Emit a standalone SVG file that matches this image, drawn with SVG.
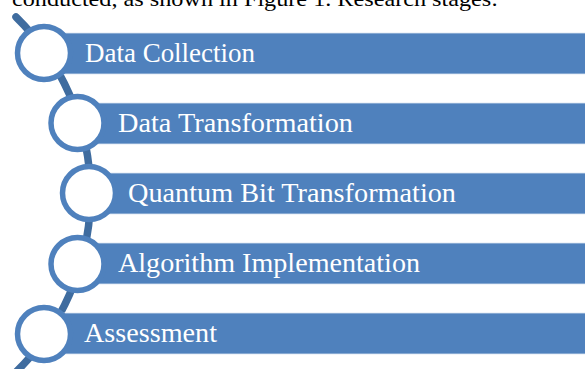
<svg xmlns="http://www.w3.org/2000/svg" width="585" height="369" viewBox="0 0 585 369">
<style>
.bar{fill:#4F81BD;stroke:#DCE6F2;stroke-width:0.8}
.ring{fill:#FFFFFF;stroke:#4F81BD;stroke-width:5.5}
.lbl{font-family:"Liberation Serif","Times New Roman",serif;font-size:27px;fill:#FFFFFF}
.conn{fill:none;stroke:#3F6C9F;stroke-width:7.5;stroke-linecap:round}
</style>
<rect width="585" height="369" fill="#FFFFFF"/>
<text x="12" y="6" font-family="Liberation Serif, serif" font-size="22" fill="#000000" textLength="486" lengthAdjust="spacingAndGlyphs">conducted, as shown in Figure 1. Research stages:</text>
<g id="connectors">
<path class="conn" d="M 16 17 A 248.7 248.7 0 0 1 16 372"/>
</g>
<g id="node1">
<rect class="bar" x="44" y="33" width="545" height="41"/>
<circle class="ring" cx="44" cy="53" r="26.5"/>
<text class="lbl" x="85" y="62" textLength="170" lengthAdjust="spacingAndGlyphs">Data Collection</text>
</g>
<g id="node2">
<rect class="bar" x="77" y="103" width="512" height="41"/>
<circle class="ring" cx="77.5" cy="123" r="26.5"/>
<text class="lbl" x="118" y="132" textLength="235" lengthAdjust="spacingAndGlyphs">Data Transformation</text>
</g>
<g id="node3">
<rect class="bar" x="89" y="173" width="500" height="41"/>
<circle class="ring" cx="89" cy="193" r="26.5"/>
<text class="lbl" x="128" y="202" textLength="328" lengthAdjust="spacingAndGlyphs">Quantum Bit Transformation</text>
</g>
<g id="node4">
<rect class="bar" x="77" y="243" width="512" height="41"/>
<circle class="ring" cx="77.5" cy="264" r="26.5"/>
<text class="lbl" x="118" y="272" textLength="302" lengthAdjust="spacingAndGlyphs">Algorithm Implementation</text>
</g>
<g id="node5">
<rect class="bar" x="44" y="313" width="545" height="41"/>
<circle class="ring" cx="44" cy="334" r="26.5"/>
<text class="lbl" x="84" y="342" textLength="133" lengthAdjust="spacingAndGlyphs">Assessment</text>
</g>
</svg>
